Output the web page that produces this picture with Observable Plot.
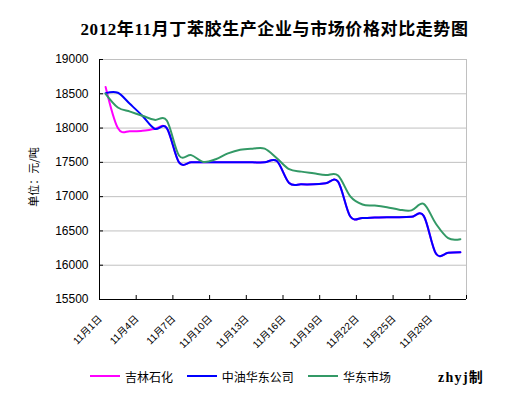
<!DOCTYPE html>
<html>
<head>
<meta charset="utf-8">
<script src="https://cdn.jsdelivr.net/npm/d3@7"></script>
<script src="https://cdn.jsdelivr.net/npm/@observablehq/plot@0.6"></script>
<style>
  body { margin: 0; background: #fff; }
  #wrap { position: relative; width: 524px; height: 395px; overflow: hidden; background: #fff; }
  #title { position: absolute; left: 274.5px; top: 15px; transform: translateX(-50%); white-space: nowrap;
           font-family: "Liberation Serif", "Noto Sans CJK SC", serif; font-weight: bold; font-size: 17px; letter-spacing: 0.6px; color: #000; }
  #ylab { position: absolute; left: 33px; top: 177px; transform: translate(-50%, -50%) rotate(-90deg); white-space: nowrap;
          font-family: "Noto Sans CJK SC", sans-serif; font-size: 11px; color: #000; }
  .leg { position: absolute; top: 368px; height: 16px; display: flex; align-items: center; white-space: nowrap;
         font-family: "Noto Sans CJK SC", sans-serif; font-size: 12px; color: #000; }
  .sw { width: 30px; height: 0; border-top: 2px solid; margin-right: 5px; }
  #sig { position: absolute; left: 438px; top: 366px; white-space: nowrap; font-family: "Liberation Serif", "Noto Sans CJK SC", serif;
         font-weight: bold; font-size: 14px; letter-spacing: 1.3px; color: #000; }
  #chart { position: absolute; left: 0; top: 0; }
</style>
</head>
<body>
<div id="wrap">
  <div id="chart"></div>
  <div id="title"></div>
  <div id="ylab"></div>
  <div id="legend"></div>
  <div id="sig"></div>
</div>
<script>
const titleText = "2012年11月丁苯胶生产企业与市场价格对比走势图";
const yLabelText = "单位：元/吨";
const signText = "zhyj制";

const days = [1,2,3,4,5,6,7,8,9,10,11,12,13,14,15,16,17,18,19,20,21,22,23,24,25,26,27,28,29,30];
const jilin    = [18600,18000,17955,17960,17985,18000,17500,17500,17500,17500,17500,17500,17500,17500,17520,17200,17180,17180,17195,17220,16710,16690,16695,16700,16700,16705,16720,16170,16180,16190];
const zhongyou = [18510,18515,18350,18180,17990,18000,17500,17500,17500,17500,17500,17500,17500,17500,17520,17200,17180,17180,17195,17220,16710,16690,16695,16700,16700,16705,16720,16170,16180,16190];
const huadong  = [18500,18300,18240,18180,18120,18110,17600,17605,17505,17545,17630,17685,17700,17700,17560,17400,17365,17340,17315,17310,17005,16885,16870,16845,16810,16800,16895,16605,16395,16380];

const seriesNames = ["吉林石化", "中油华东公司", "华东市场"];
const seriesColors = ["#FF00FF", "#0000FF", "#339966"];
const yTicks = [15500,16000,16500,17000,17500,18000,18500,19000];
const xTickBounds = [0.5,3.5,6.5,9.5,12.5,15.5,18.5,21.5,24.5,27.5,30.5];
const xLabelDays = [1,4,7,10,13,16,19,22,25,28];
const monthLabel = "11月";
const dayLabel = "日";

const seriesValues = [jilin, zhongyou, huadong];
const rows = seriesNames.flatMap((name, i) => days.map((d, j) => ({series: name, day: d, value: seriesValues[i][j]})));

const chart = Plot.plot({
  width: 524,
  height: 395,
  marginLeft: 99,
  marginRight: 58,
  marginTop: 59,
  marginBottom: 96,
  style: {fontFamily: "'Liberation Sans', 'Noto Sans CJK SC', sans-serif", fontSize: "12px", color: "#000", background: "transparent"},
  x: {type: "linear", domain: [0.5, 30.5], label: null},
  y: {domain: [15500, 19000], label: null},
  color: {domain: seriesNames, range: seriesColors},
  marks: [
    Plot.ruleY(yTicks.filter(v => v > 15500), {stroke: "#c0c0c0", strokeWidth: 1}),
    Plot.ruleX([30.5], {stroke: "#c0c0c0", strokeWidth: 1}),
    Plot.line(rows, {x: "day", y: "value", z: "series", stroke: "series", strokeWidth: 2, curve: "cardinal", tension: 0}),
    Plot.ruleX([0.5], {stroke: "#000", strokeWidth: 1}),
    Plot.ruleY([15500], {stroke: "#000", strokeWidth: 1}),
    Plot.axisY({ticks: yTicks, tickSize: -4, tickPadding: 15, tickFormat: d => String(d), fontSize: 12, label: null}),
    Plot.axisX({ticks: xTickBounds, tickSize: -4, tickFormat: () => "", label: null}),
    Plot.text(xLabelDays, {x: d => d, frameAnchor: "bottom", text: d => `${monthLabel}${d}${dayLabel}`,
      rotate: -45, textAnchor: "end", lineAnchor: "bottom", dx: -3, dy: 20, fontSize: 10})
  ]
});
document.getElementById("chart").appendChild(chart);
document.getElementById("title").textContent = titleText;
document.getElementById("ylab").textContent = yLabelText;
document.getElementById("sig").textContent = signText;

const legendLefts = [90, 186.7, 308];
const legend = document.getElementById("legend");
seriesNames.forEach((name, i) => {
  const item = document.createElement("div");
  item.className = "leg";
  item.style.left = legendLefts[i] + "px";
  const sw = document.createElement("div");
  sw.className = "sw";
  sw.style.borderTopColor = seriesColors[i];
  const t = document.createElement("span");
  t.textContent = name;
  item.appendChild(sw);
  item.appendChild(t);
  legend.appendChild(item);
});
</script>
</body>
</html>
